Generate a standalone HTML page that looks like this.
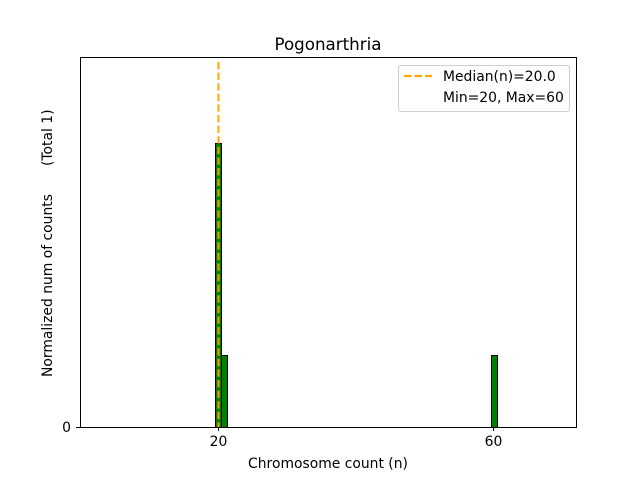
<!DOCTYPE html>
<html><head><meta charset="utf-8"><style>html,body{margin:0;padding:0;background:#fff}svg{display:block}</style></head>
<body>
<svg width="640" height="480" xmlns="http://www.w3.org/2000/svg" font-family="DejaVu Sans, Liberation Sans, sans-serif">
<rect width="640" height="480" fill="#fff"/>
<rect x="215.5" y="143.5" width="6" height="284" fill="#008000" stroke="#000" stroke-width="1"/>
<rect x="221.5" y="355.5" width="6" height="72" fill="#008000" stroke="#000" stroke-width="1"/>
<rect x="491.5" y="355.5" width="6" height="72" fill="#008000" stroke="#000" stroke-width="1"/>
<line x1="218.5" y1="62" x2="218.5" y2="427" stroke="#FFA500" stroke-width="2.2" stroke-dasharray="7.4,3.2" opacity="0.9"/>
<rect x="80.5" y="57.5" width="496" height="370" fill="none" stroke="#000" stroke-width="1"/>
<line x1="218.5" y1="427" x2="218.5" y2="431" stroke="#000"/>
<line x1="493.5" y1="427" x2="493.5" y2="431" stroke="#000"/>
<line x1="76" y1="427.5" x2="80" y2="427.5" stroke="#000"/>
<text x="218.5" y="446" font-size="13.9" text-anchor="middle">20</text>
<text x="493.5" y="446" font-size="13.9" text-anchor="middle">60</text>
<text x="71" y="432" font-size="13.9" text-anchor="end">0</text>
<text x="328" y="468" font-size="13.9" text-anchor="middle">Chromosome count (n)</text>
<text x="328" y="50" font-size="16.7" text-anchor="middle">Pogonarthria</text>
<text transform="translate(52,377) rotate(-90)" font-size="13.9">Normalized num of counts</text>
<text transform="translate(52,166) rotate(-90)" font-size="13.9">(Total 1)</text>
<rect x="398.5" y="65.5" width="171" height="46" rx="2" fill="#fff" stroke="#ccc" stroke-width="1" opacity="0.9"/>
<line x1="404" y1="76" x2="432" y2="76" stroke="#FFA500" stroke-width="2.2" stroke-dasharray="7.4,3.2"/>
<text x="443" y="81" font-size="13.9">Median(n)=20.0</text>
<text x="443" y="102" font-size="13.9">Min=20, Max=60</text>
</svg>
</body></html>
